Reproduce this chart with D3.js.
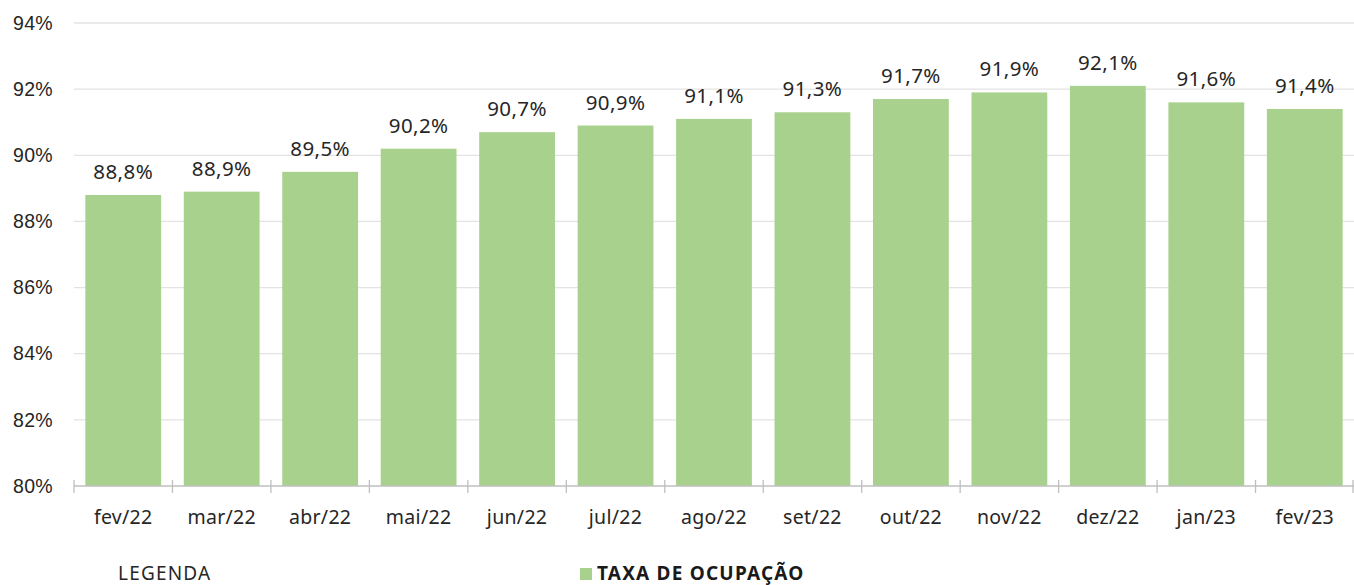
<!DOCTYPE html>
<html lang="pt">
<head>
<meta charset="utf-8" />
<title>Taxa de ocupação</title>
<script src="https://d3js.org/d3.v7.min.js"></script>
<style>
    body { margin: 0; background: #fff; }
    svg { display: block; font-family: "Noto Sans", "Open Sans", sans-serif; }
    .grid line { stroke: #e3e3e3; stroke-width: 1.3; }
    .axis text { font-size: 19.5px; fill: #262626; letter-spacing: 0.3px; }
    .label { font-size: 20.5px; fill: #262626; text-anchor: middle; letter-spacing: 0.4px; }
</style>
</head>
<body>
<div id="chart"></div>
<script>
    var months = ['fev/22', 'mar/22', 'abr/22', 'mai/22', 'jun/22', 'jul/22', 'ago/22',
        'set/22', 'out/22', 'nov/22', 'dez/22', 'jan/23', 'fev/23'];
    var ocupacao = [88.8, 88.9, 89.5, 90.2, 90.7, 90.9, 91.1, 91.3, 91.7, 91.9, 92.1, 91.6, 91.4];
    var yTicks = [80, 82, 84, 86, 88, 90, 92, 94];

    var width = 1354, height = 585;
    var margin = { top: 23, right: 0, bottom: 99, left: 74 };

    var svg = d3.select('#chart').append('svg')
        .attr('width', width)
        .attr('height', height);

    var x = d3.scaleBand()
        .domain(months)
        .range([margin.left, width - margin.right])
        .paddingInner(0.23)
        .paddingOuter(0.115);

    var y = d3.scaleLinear()
        .domain([80, 94])
        .range([height - margin.bottom, margin.top]);

    // gridlines
    svg.append('g').attr('class', 'grid')
        .selectAll('line')
        .data(yTicks.filter(function(d) { return d > 80; }))
        .enter().append('line')
        .attr('x1', margin.left).attr('x2', width - margin.right)
        .attr('y1', function(d) { return y(d); })
        .attr('y2', function(d) { return y(d); });

    // y axis labels
    var yAxis = svg.append('g').attr('class', 'axis')
        .attr('transform', 'translate(' + margin.left + ',0)')
        .call(d3.axisLeft(y).tickValues(yTicks).tickSize(0).tickPadding(21)
            .tickFormat(function(d) { return d + '%'; }));
    yAxis.select('.domain').remove();

    // bars
    svg.append('g').selectAll('rect')
        .data(ocupacao)
        .enter().append('rect')
        .attr('x', function(d, i) { return x(months[i]); })
        .attr('width', x.bandwidth())
        .attr('y', function(d) { return y(d); })
        .attr('height', function(d) { return y(80) - y(d); })
        .attr('fill', '#a9d18e');

    // data labels
    svg.append('g').selectAll('text')
        .data(ocupacao)
        .enter().append('text')
        .attr('class', 'label')
        .attr('x', function(d, i) { return x(months[i]) + x.bandwidth() / 2; })
        .attr('y', function(d) { return y(d) - 16; })
        .text(function(d) { return d.toFixed(1).replace('.', ',') + '%'; });

    // x axis
    var base = y(80);
    var xAxis = svg.append('g').attr('class', 'axis')
        .attr('transform', 'translate(0,' + base + ')');
    xAxis.append('line')
        .attr('x1', margin.left).attr('x2', width - margin.right)
        .attr('stroke', '#bfbfbf').attr('stroke-width', 1.3);
    var step = x.step();
    var tickPos = d3.range(months.length + 1).map(function(i) {
        return margin.left + i * step;
    });
    xAxis.selectAll('.tk')
        .data(tickPos)
        .enter().append('line')
        .attr('class', 'tk')
        .attr('x1', function(d) { return Math.min(d, width - 1); })
        .attr('x2', function(d) { return Math.min(d, width - 1); })
        .attr('y1', -6).attr('y2', 7)
        .attr('stroke', '#bfbfbf').attr('stroke-width', 1.3);
    xAxis.selectAll('.lbl')
        .data(months)
        .enter().append('text')
        .attr('class', 'lbl')
        .attr('x', function(d) { return x(d) + x.bandwidth() / 2; })
        .attr('y', 38)
        .attr('text-anchor', 'middle')
        .text(function(d) { return d; });

    // legend
    svg.append('text')
        .attr('x', 118).attr('y', 580)
        .style('font-size', '19px').style('letter-spacing', '1.2px').style('fill', '#262626')
        .text('LEGENDA');
    svg.append('rect')
        .attr('x', 580).attr('y', 568)
        .attr('width', 12).attr('height', 12)
        .attr('fill', '#a9d18e');
    svg.append('text')
        .attr('x', 597).attr('y', 580)
        .style('font-size', '19px').style('font-weight', 'bold')
        .style('letter-spacing', '1.2px').style('fill', '#1a1a1a')
        .text('TAXA DE OCUPAÇÃO');
</script>
</body>
</html>
